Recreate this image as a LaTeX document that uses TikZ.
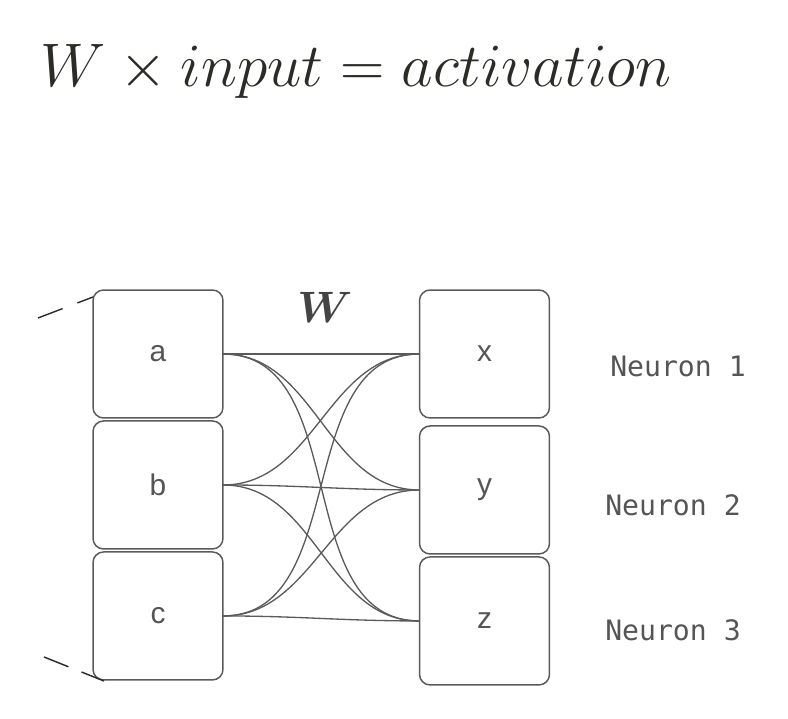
\RequirePackage{fix-cm}
\documentclass[tikz,border=0pt]{standalone}
\usepackage{amsmath}
\usepackage{bm}
\usepackage{fontspec}
\newfontfamily\boxfont{Liberation Sans}
\newfontfamily\labelfont{DejaVu Sans Mono}
\usetikzlibrary{positioning}

\definecolor{ink}{HTML}{2B2B27}
\definecolor{edge}{HTML}{5A5A5A}
\definecolor{txt}{HTML}{555555}

\begin{document}
\begin{tikzpicture}[x=0.02cm, y=0.02cm,
    cell/.style={draw=edge, line width=0.85pt, rounded corners=6pt,
                 minimum width=2.6cm, minimum height=2.56cm,
                 inner sep=0pt, outer sep=0pt,
                 font=\boxfont\fontsize{17}{20}\selectfont, text=txt},
    link/.style={draw=edge, line width=0.75pt},
    neuron/.style={font=\labelfont\fontsize{16}{18}\selectfont, text=txt},
    node distance=0pt
  ]
  \useasboundingbox (0,0) rectangle (788,718);

  % title
  \node[anchor=base west, inner sep=0pt, text=ink] (title) at (40,631)
    {\fontsize{35}{40}\selectfont $W \times input = activation$};

  % inputs
  \node[cell] (a) at (158,364) {a};
  \node[cell, below=0.06cm of a] (b) {b};
  \node[cell, below=0.06cm of b] (c) {c};

  % neurons
  \node[cell] (x) at (484.5,364) {x};
  \node[cell, below=0.16cm of x] (y) {y};
  \node[cell, below=0.06cm of y] (z) {z};

  % weights
  \node[text=txt!80!black] (w) at (325,411)
    {\fontsize{25}{28}\selectfont $\bm{W}$};
  \foreach \i in {a,b,c}
    \foreach \o in {x,y,z}
      \draw[link] (\i.east) to[out=0, in=180] (\o.west);

  % neuron labels
  \node[neuron] (n1) at (678,352) {Neuron 1};
  \node[neuron] (n2) at (673,213) {Neuron 2};
  \node[neuron] (n3) at (673,88) {Neuron 3};

  % bracket marks
  \coordinate (t1) at (38,400);
  \coordinate (t2) at (93,421);
  \coordinate (b1) at (44,61);
  \coordinate (b2) at (104,37);
  \draw[ink, line width=0.8pt, dash pattern=on 15pt off 9pt] (t1) -- (t2);
  \draw[ink, line width=0.8pt, dash pattern=on 15pt off 8pt] (b1) -- (b2);
\end{tikzpicture}
\end{document}
